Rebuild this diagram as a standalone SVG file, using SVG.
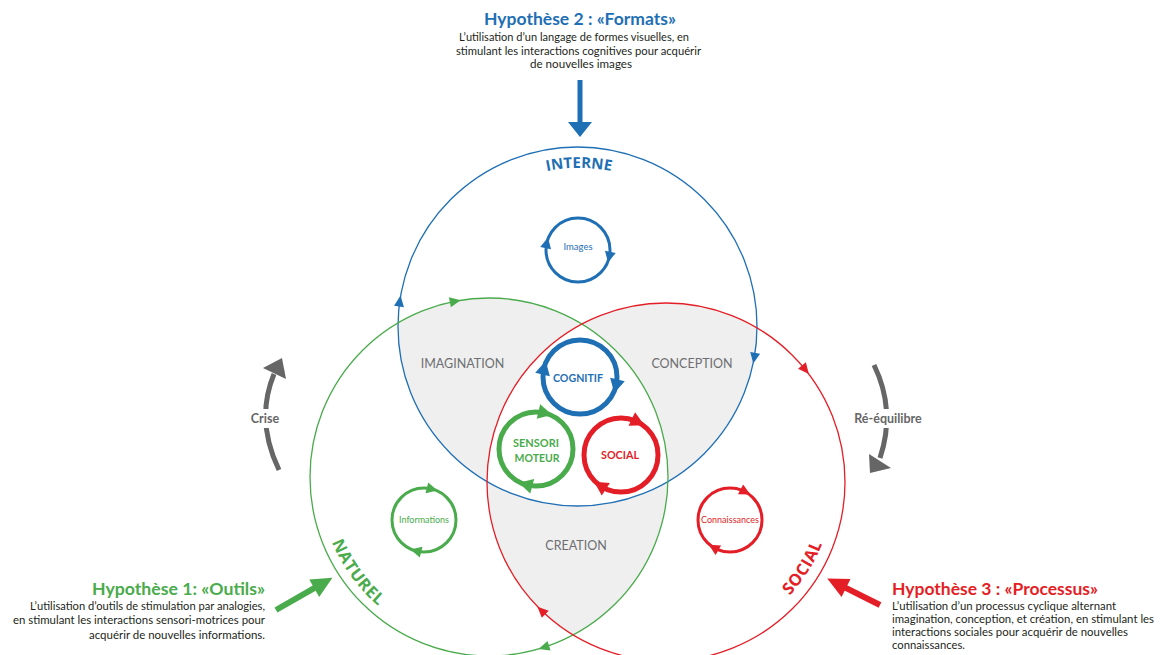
<svg xmlns="http://www.w3.org/2000/svg" xmlns:xlink="http://www.w3.org/1999/xlink" width="1163" height="655" viewBox="0 0 1163 655">
<style>
text{font-family:Lato,"Open Sans","Liberation Sans",sans-serif}
.title{font-weight:bold;font-size:17.5px}
.body{font-size:12px;fill:#231f20}
.blue{fill:#1f6fb4}.green{fill:#4aab4c}.red{fill:#e41e26}
.big{fill:none;stroke-width:1.3}
.thick{fill:none;stroke-width:5}
.thin{fill:none;stroke-width:3}
.region{font-size:12.5px;fill:#6d6e71}
.cyc{font-weight:bold;font-size:12px}
.sm{font-size:9.5px}
.ring{font-weight:bold;font-family:"Open Sans","Liberation Sans",sans-serif}
.grey{fill:#666}
</style>
<defs>
<clipPath id="cB"><circle cx="577.5" cy="326.5" r="179.5"/></clipPath>
<clipPath id="cG"><circle cx="489" cy="477" r="179"/></clipPath>
<clipPath id="cR"><circle cx="666" cy="482" r="179"/></clipPath>
<path id="ahBig" d="M6,0 L-5,-5 L-5,5 Z"/>
<path id="ahThick" d="M8,0 L-6,-7.5 L-6,7.5 Z"/>
<path id="ahSmall" d="M6,0 L-5,-5.5 L-5,5.5 Z"/>
<path id="pInterne" d="M498,190.2 A158,158 0 0 1 660,190.2"/>
<path id="pNaturel" d="M319,480 A170,170 0 0 0 433.65,637.7"/>
<path id="pSocial" d="M731.6,636.6 A168,168 0 0 0 833.8,473.2"/>
</defs>

<g id="regions">
<g clip-path="url(#cB)"><circle cx="489" cy="477" r="179" fill="#efefef"/></g>
<g clip-path="url(#cB)"><circle cx="666" cy="482" r="179" fill="#efefef"/></g>
<g clip-path="url(#cG)"><circle cx="666" cy="482" r="179" fill="#efefef"/></g>
<g clip-path="url(#cB)"><g clip-path="url(#cG)"><circle cx="666" cy="482" r="179" fill="#fff"/></g></g>
<text class="region" x="462.5" y="368" text-anchor="middle">IMAGINATION</text>
<text class="region" x="692" y="368" text-anchor="middle">CONCEPTION</text>
<text class="region" x="576" y="550" text-anchor="middle">CREATION</text>
</g>

<g id="interne">
<circle class="big" cx="577.5" cy="326.5" r="179.5" stroke="#1f6fb4"/>
<use href="#ahBig" class="blue" transform="translate(399.7,301.5) rotate(278)"/>
<use href="#ahBig" class="blue" transform="translate(754.3,357.7) rotate(100)"/>
<text class="ring blue" font-size="15"><textPath href="#pInterne" startOffset="50%" text-anchor="middle">INTERNE</textPath></text>
</g>

<g id="naturel">
<circle class="big" cx="489" cy="477" r="179" stroke="#4aab4c"/>
<use href="#ahBig" class="green" transform="translate(454.8,301.3) rotate(349)"/>
<use href="#ahBig" class="green" transform="translate(544.3,647.2) rotate(162)"/>
<text class="ring green" font-size="16.5" letter-spacing="0.5"><textPath href="#pNaturel" startOffset="50%" text-anchor="middle">NATUREL</textPath></text>
</g>

<g id="social-ring">
<circle class="big" cx="666" cy="482" r="179" stroke="#e41e26"/>
<use href="#ahBig" class="red" transform="translate(805.1,369.4) rotate(51)"/>
<use href="#ahBig" class="red" transform="translate(541.7,610.8) rotate(224)"/>
<text class="ring red" font-size="16.5" letter-spacing="0.5"><textPath href="#pSocial" startOffset="50%" text-anchor="middle">SOCIAL</textPath></text>
</g>

<g id="cognitif">
<circle class="thick" cx="580" cy="377" r="37" stroke="#1f6fb4"/>
<use href="#ahThick" class="blue" transform="translate(543.9,368.7) rotate(283)"/>
<use href="#ahThick" class="blue" transform="translate(616.1,385.3) rotate(103)"/>
<text class="cyc blue" x="578" y="381.5" text-anchor="middle" textLength="50" lengthAdjust="spacingAndGlyphs">COGNITIF</text>
</g>

<g id="sensori">
<circle class="thick" cx="536" cy="449" r="37" stroke="#4aab4c"/>
<use href="#ahThick" class="green" transform="translate(544.3,412.9) rotate(13)"/>
<use href="#ahThick" class="green" transform="translate(526.4,484.7) rotate(195)"/>
<text class="cyc green" x="536" y="447" text-anchor="middle" textLength="46" lengthAdjust="spacingAndGlyphs">SENSORI</text>
<text class="cyc green" x="537" y="461.5" text-anchor="middle" textLength="45" lengthAdjust="spacingAndGlyphs">MOTEUR</text>
</g>

<g id="social">
<circle class="thick" cx="621" cy="455" r="37" stroke="#e41e26"/>
<use href="#ahThick" class="red" transform="translate(637.2,421.7) rotate(26)"/>
<use href="#ahThick" class="red" transform="translate(600.8,486) rotate(213)"/>
<text class="cyc red" x="620" y="459" text-anchor="middle" textLength="38" lengthAdjust="spacingAndGlyphs">SOCIAL</text>
</g>

<g id="images">
<circle class="thin" cx="578" cy="250" r="32" stroke="#1f6fb4"/>
<use href="#ahSmall" class="blue" transform="translate(546.7,243.3) rotate(282)"/>
<use href="#ahSmall" class="blue" transform="translate(609.3,256.7) rotate(102)"/>
<text class="sm blue" x="578" y="249.5" text-anchor="middle" textLength="29" lengthAdjust="spacingAndGlyphs">Images</text>
</g>

<g id="informations">
<circle class="thin" cx="424" cy="520" r="32" stroke="#4aab4c"/>
<use href="#ahSmall" class="green" transform="translate(431.7,489) rotate(14)"/>
<use href="#ahSmall" class="green" transform="translate(416.3,551) rotate(194)"/>
<text class="sm green" x="424" y="522.5" text-anchor="middle" textLength="50" lengthAdjust="spacingAndGlyphs">Informations</text>
</g>

<g id="connaissances">
<circle class="thin" cx="730" cy="520" r="32" stroke="#e41e26"/>
<use href="#ahSmall" class="red" transform="translate(745,491.7) rotate(28)"/>
<use href="#ahSmall" class="red" transform="translate(714,547.7) rotate(210)"/>
<text class="sm red" x="730" y="523" text-anchor="middle" textLength="58" lengthAdjust="spacingAndGlyphs">Connaissances</text>
</g>

<g id="connectors">
<g id="arrow-h2" class="blue">
<rect x="577.5" y="80" width="5" height="43"/>
<polygon points="568,122 592,122 580,137"/>
</g>
<g id="arrow-h1" class="green" transform="translate(276,610) rotate(-29.7)">
<rect x="0" y="-3" width="46" height="6"/>
<polygon points="44,-10 65,0 44,10"/>
</g>
<g id="arrow-h3" class="red" transform="translate(880,605) rotate(206.6)">
<rect x="0" y="-3" width="40" height="6"/>
<polygon points="38,-10 59,0 38,10"/>
</g>
<g id="crise">
<path d="M279,470 Q255,420 274,374" fill="none" stroke="#666" stroke-width="5"/>
<polygon class="grey" points="282,358 263,368 286,379"/>
<rect x="244" y="409" width="44" height="19" fill="#fff"/>
<text class="grey" x="265" y="423" text-anchor="middle" font-size="12.5" font-weight="bold">Crise</text>
</g>
<g id="reequilibre">
<path d="M874,365 Q896,410 880,458" fill="none" stroke="#666" stroke-width="5"/>
<polygon class="grey" points="870,473 869,454 891,468"/>
<rect x="848" y="409" width="81" height="19" fill="#fff"/>
<text class="grey" x="888" y="423" text-anchor="middle" font-size="12.5" font-weight="bold">Ré-équilibre</text>
</g>
</g>

<g id="hyp2">
<text class="title blue" x="580" y="25" text-anchor="middle" textLength="192" lengthAdjust="spacingAndGlyphs">Hypothèse 2 : «Formats»</text>
<text class="body" x="574" y="41" text-anchor="middle" textLength="230" lengthAdjust="spacingAndGlyphs">L’utilisation d’un langage de formes visuelles, en</text>
<text class="body" x="578.5" y="54.5" text-anchor="middle" textLength="245" lengthAdjust="spacingAndGlyphs">stimulant les interactions cognitives pour acquérir</text>
<text class="body" x="581" y="68" text-anchor="middle" textLength="102" lengthAdjust="spacingAndGlyphs">de nouvelles images</text>
</g>

<g id="hyp1">
<text class="title green" x="265" y="594.5" text-anchor="end" textLength="173" lengthAdjust="spacingAndGlyphs">Hypothèse 1: «Outils»</text>
<text class="body" x="265" y="609.5" text-anchor="end" textLength="235" lengthAdjust="spacingAndGlyphs">L’utilisation d’outils de stimulation par analogies,</text>
<text class="body" x="265" y="624" text-anchor="end" textLength="252" lengthAdjust="spacingAndGlyphs">en stimulant les interactions sensori-motrices pour</text>
<text class="body" x="265" y="638.5" text-anchor="end" textLength="176" lengthAdjust="spacingAndGlyphs">acquérir de nouvelles informations.</text>
</g>

<g id="hyp3">
<text class="title red" x="892" y="595" textLength="206" lengthAdjust="spacingAndGlyphs">Hypothèse 3 : «Processus»</text>
<text class="body" x="892" y="609.5" textLength="224" lengthAdjust="spacingAndGlyphs">L’utilisation d’un processus cyclique alternant</text>
<text class="body" x="892" y="622.5" font-size="11.3" textLength="262" lengthAdjust="spacingAndGlyphs" style="font-size:11.3px">imagination, conception, et création, en stimulant les</text>
<text class="body" x="892" y="635.5" textLength="236" lengthAdjust="spacingAndGlyphs">interactions sociales pour acquérir de nouvelles</text>
<text class="body" x="892" y="648.5" textLength="73" lengthAdjust="spacingAndGlyphs">connaissances.</text>
</g>
</svg>
